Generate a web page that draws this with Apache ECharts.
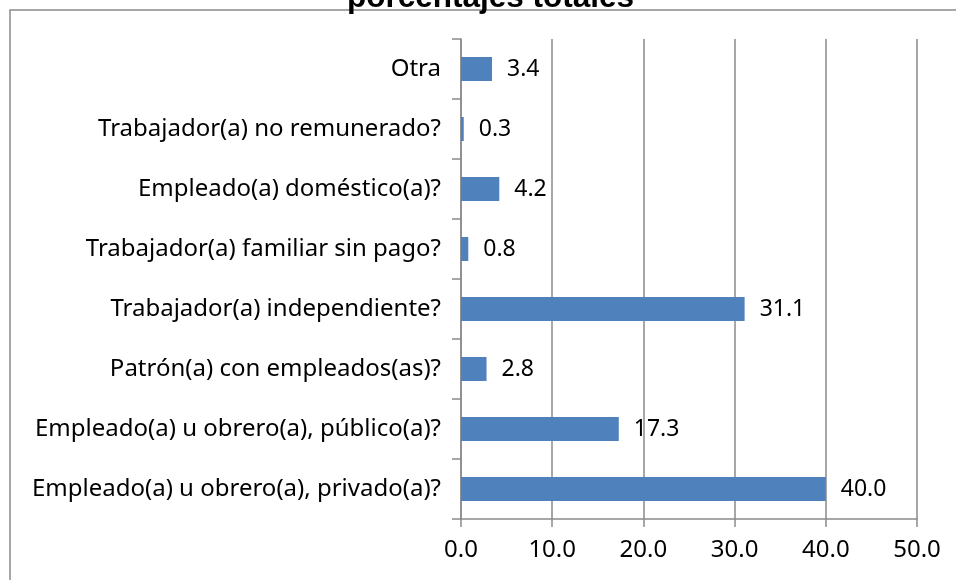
<!DOCTYPE html>
<html>
<head>
<meta charset="utf-8">
<script src="https://cdn.jsdelivr.net/npm/echarts@6/dist/echarts.min.js"></script>
<style>
  html, body { margin: 0; padding: 0; background: #fff; }
  #main { width: 956px; height: 580px; }
</style>
</head>
<body>
<div id="main"></div>
<script>
// categorias (de abajo hacia arriba, como las dibuja echarts)
var categorias = [
  'Empleado(a) u obrero(a), privado(a)?',
  'Empleado(a) u obrero(a), público(a)?',
  'Patrón(a) con empleados(as)?',
  'Trabajador(a) independiente?',
  'Trabajador(a) familiar sin pago?',
  'Empleado(a) doméstico(a)?',
  'Trabajador(a) no remunerado?',
  'Otra'
];
var porcentajes = [40.0, 17.3, 2.8, 31.1, 0.8, 4.2, 0.3, 3.4];
var ejeMin = 0, ejeMax = 50, ejePaso = 10;

var fuente = 'Noto Sans';
var gris = '#8a8a8a';

var chart = echarts.init(document.getElementById('main'));
var option = {
  backgroundColor: '#fff',
  animation: false,
  title: {
    text: 'porcentajes totales',
    left: 347,
    top: -18,
    padding: 0,
    textStyle: { fontFamily: 'Liberation Sans', fontWeight: 'bold', fontSize: 31.5, color: '#000' }
  },
  graphic: [{
    type: 'rect',
    shape: { x: 10, y: 10, width: 1000, height: 700 },
    style: { fill: 'none', stroke: gris, lineWidth: 1.5 },
    silent: true
  }],
  grid: { left: 461, right: 39, top: 39, bottom: 61 },
  xAxis: {
    type: 'value',
    min: ejeMin, max: ejeMax, interval: ejePaso,
    axisLine: { show: true, lineStyle: { color: gris, width: 1.5 } },
    axisTick: { show: true, length: 8, lineStyle: { color: gris, width: 1.5 } },
    splitLine: { show: true, lineStyle: { color: gris, width: 1.5 } },
    axisLabel: {
      margin: 19,
      fontFamily: fuente, fontSize: 24, color: '#000',
      formatter: function (v) { return v.toFixed(1); }
    }
  },
  yAxis: {
    type: 'category',
    data: categorias,
    axisLine: { show: true, lineStyle: { color: gris, width: 1.5 } },
    axisTick: { show: true, length: 9, lineStyle: { color: gris, width: 1.5 } },
    axisLabel: { margin: 20, fontFamily: fuente, fontSize: 24, color: '#000' }
  },
  series: [{
    type: 'bar',
    data: porcentajes,
    barWidth: '40%',
    itemStyle: { color: '#4f81bd' },
    label: {
      show: true,
      position: 'right',
      distance: 15,
      fontFamily: fuente, fontSize: 23, color: '#000',
      formatter: function (p) { return p.value.toFixed(1); }
    }
  }]
};
chart.setOption(option);
</script>
</body>
</html>
